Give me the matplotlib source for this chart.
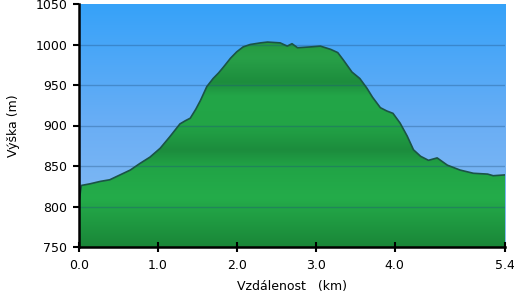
import numpy as np
import matplotlib
matplotlib.use("Agg")
import matplotlib.pyplot as plt
from matplotlib.colors import LinearSegmentedColormap

distance_km = [0.00, 0.03, 0.14, 0.27, 0.39, 0.52, 0.65, 0.77, 0.90, 1.03, 1.15, 1.28,
               1.35, 1.41, 1.48, 1.54, 1.62, 1.70, 1.77, 1.83, 1.92, 2.00, 2.08, 2.17,
               2.30, 2.39, 2.55, 2.64, 2.70, 2.77, 2.93, 3.06, 3.19, 3.28, 3.35, 3.46,
               3.56, 3.65, 3.72, 3.82, 3.90, 3.98, 4.07, 4.16, 4.24, 4.33, 4.43, 4.54,
               4.67, 4.83, 5.00, 5.18, 5.25, 5.40]
elevation_m = [806, 826, 828, 831, 833, 839, 845, 853, 861, 872, 886, 902,
               906, 909, 920, 931, 948, 958, 965, 972, 983, 991, 997, 1000,
               1002, 1003, 1002, 998, 1001, 996, 997, 998, 994, 990, 981, 966,
               958, 946, 935, 922, 918, 915, 903, 887, 870, 862, 857, 860,
               851, 845, 841, 840, 838, 839]
x_ticks = [0, 1, 2, 3, 4, 5.4]
x_tick_labels = ["0.0", "1.0", "2.0", "3.0", "4.0", "5.4"]
y_ticks = [750, 800, 850, 900, 950, 1000, 1050]

fig = plt.figure(figsize=(5.14, 2.95), dpi=100)
ax = fig.add_axes([79/514, 48/295, 426/514, 243/295])
xmin, xmax, ymin, ymax = 0, 5.4, 750, 1050
ax.set_xlim(xmin, xmax)
ax.set_ylim(ymin, ymax)

# sky gradient
sky = LinearSegmentedColormap.from_list("sky", ["#8bbef2", "#6aaef5", "#36a2f9"])
grad = np.linspace(0, 1, 256).reshape(-1, 1)
ax.imshow(grad, cmap=sky, aspect="auto", extent=[xmin, xmax, ymin, ymax],
          origin="lower", zorder=0)

# green gradient clipped to profile
gstops = [(0.0, "#1a8638"), (0.2, "#24ac4a"), (0.33, "#21a446"), (0.40, "#1c8c3d"),
          (0.50, "#22a446"), (0.62, "#23a648"), (0.68, "#1d8d3d"), (0.78, "#28a048"),
          (0.86, "#24993f"), (0.95, "#1e8a3e"), (1.0, "#1a7a38")]
green = LinearSegmentedColormap.from_list("green", gstops)
poly = ax.fill_between(distance_km, elevation_m, ymin, color="none", lw=0, zorder=1)
img = ax.imshow(grad, cmap=green, aspect="auto", extent=[xmin, xmax, ymin, ymax],
                origin="lower", zorder=1)
img.set_clip_path(poly.get_paths()[0], transform=ax.transData)

ax.plot(distance_km, elevation_m, color="#1b5446", lw=1.2, zorder=3,
        solid_joinstyle="round")

for y in y_ticks[1:-1]:
    ax.axhline(y, color="#1f4f80", alpha=0.35, lw=1, zorder=2)

ax.set_xticks(x_ticks)
ax.set_xticklabels(x_tick_labels)
ax.set_yticks(y_ticks)
for s in ["top", "right"]:
    ax.spines[s].set_visible(False)
for s in ["left", "bottom"]:
    ax.spines[s].set_linewidth(1.8)
    ax.spines[s].set_zorder(5)
ax.tick_params(axis="y", direction="out", length=4.5, width=1.5, labelsize=9, pad=4)
ax.tick_params(axis="x", direction="inout", length=7, width=1.5, labelsize=9, pad=5)
ax.set_xlabel("Vzdálenost   (km)", fontsize=9, labelpad=6)
ax.set_ylabel("Výška (m)", fontsize=9, labelpad=11)

fig.savefig("out.png", dpi=100)
